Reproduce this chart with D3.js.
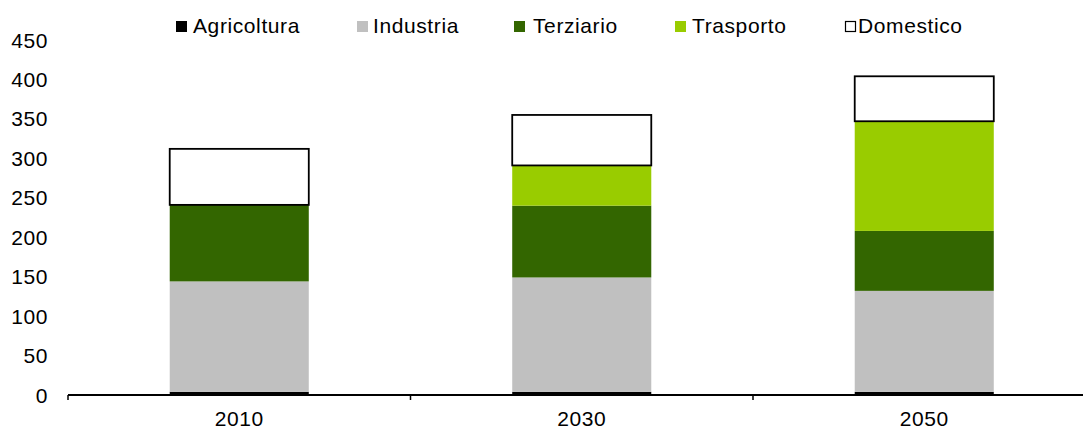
<!DOCTYPE html>
<html>
<head>
<meta charset="utf-8">
<script src="https://cdn.jsdelivr.net/npm/d3@7"></script>
<style>
  body { margin: 0; background: #fff; }
  svg text { font-family: "Liberation Sans", Arial, sans-serif; font-size: 21px; letter-spacing: 0.6px; fill: #000; }
</style>
</head>
<body>
<div id="chart"></div>
<script>
const width = 1083;
const height = 430;

// data
const years = ["2010", "2030", "2050"];
const seriesNames = ["Agricoltura", "Industria", "Terziario", "Trasporto", "Domestico"];
const agricoltura = [4, 4, 4];
const industria = [140, 145, 128];
const terziario = [97, 91, 76];
const trasporto = [0, 51, 139];
const domestico = [71, 64, 57];
const yTicks = [0, 50, 100, 150, 200, 250, 300, 350, 400, 450];

const colors = {
  Agricoltura: "#000000",
  Industria: "#c0c0c0",
  Terziario: "#336600",
  Trasporto: "#99cc00",
  Domestico: "#ffffff"
};

const table = years.map((y, i) => ({
  year: y,
  Agricoltura: agricoltura[i],
  Industria: industria[i],
  Terziario: terziario[i],
  Trasporto: trasporto[i],
  Domestico: domestico[i]
}));

const stacked = d3.stack().keys(seriesNames)(table);

const svg = d3.select("#chart")
  .append("svg")
  .attr("width", width)
  .attr("height", height);

const x = d3.scaleBand()
  .domain(years)
  .range([68, 1095.5])
  .paddingInner(0.594)
  .paddingOuter(0.297);

const y = d3.scaleLinear()
  .domain([0, 450])
  .range([395, 40]);

// y tick labels (no axis line in the original)
svg.append("g")
  .selectAll("text")
  .data(yTicks)
  .enter()
  .append("text")
  .attr("x", 48)
  .attr("y", d => y(d))
  .attr("dy", "0.36em")
  .attr("text-anchor", "end")
  .text(d => d);

// bars
const layer = svg.append("g")
  .selectAll("g")
  .data(stacked)
  .enter()
  .append("g")
  .attr("fill", d => colors[d.key]);

layer.selectAll("rect")
  .data(d => d.map(v => Object.assign(v, { key: d.key })))
  .enter()
  .filter(d => d[1] - d[0] > 0)
  .append("rect")
  .attr("x", d => x(d.data.year))
  .attr("width", x.bandwidth())
  .attr("y", d => y(d[1]))
  .attr("height", d => y(d[0]) - y(d[1]))
  .attr("stroke", d => d.key === "Domestico" ? "#000" : "none")
  .attr("stroke-width", 1.8);

// x axis: line with ticks between categories
const step = x.step();
const xTickPos = [0, 1, 2].map(i => 68 + i * step);
svg.append("line")
  .attr("x1", 68).attr("x2", width)
  .attr("y1", y(0)).attr("y2", y(0))
  .attr("stroke", "#000").attr("stroke-width", 2);
svg.append("g")
  .selectAll("line")
  .data(xTickPos)
  .enter()
  .append("line")
  .attr("x1", d => d).attr("x2", d => d)
  .attr("y1", y(0)).attr("y2", y(0) + 5)
  .attr("stroke", "#000").attr("stroke-width", 1.5);

svg.append("g")
  .selectAll("text")
  .data(years)
  .enter()
  .append("text")
  .attr("x", d => x(d) + x.bandwidth() / 2)
  .attr("y", 426)
  .attr("text-anchor", "middle")
  .text(d => d);

// legend
const legendX = [176, 357, 514, 675, 845];
const legend = svg.append("g")
  .selectAll("g")
  .data(seriesNames)
  .enter()
  .append("g")
  .attr("transform", (d, i) => `translate(${legendX[i]},21)`);

legend.append("rect")
  .attr("x", d => d === "Domestico" ? 0.5 : 0)
  .attr("y", d => d === "Domestico" ? 0.5 : 0)
  .attr("width", d => d === "Domestico" ? 10 : 11)
  .attr("height", d => d === "Domestico" ? 10 : 11)
  .attr("fill", d => colors[d])
  .attr("stroke", d => d === "Domestico" ? "#000" : "none")
  .attr("stroke-width", 1.2);

legend.append("text")
  .attr("x", (d, i) => [17, 16, 19, 17, 13][i])
  .attr("y", 12)
  .text(d => d);
</script>
</body>
</html>
